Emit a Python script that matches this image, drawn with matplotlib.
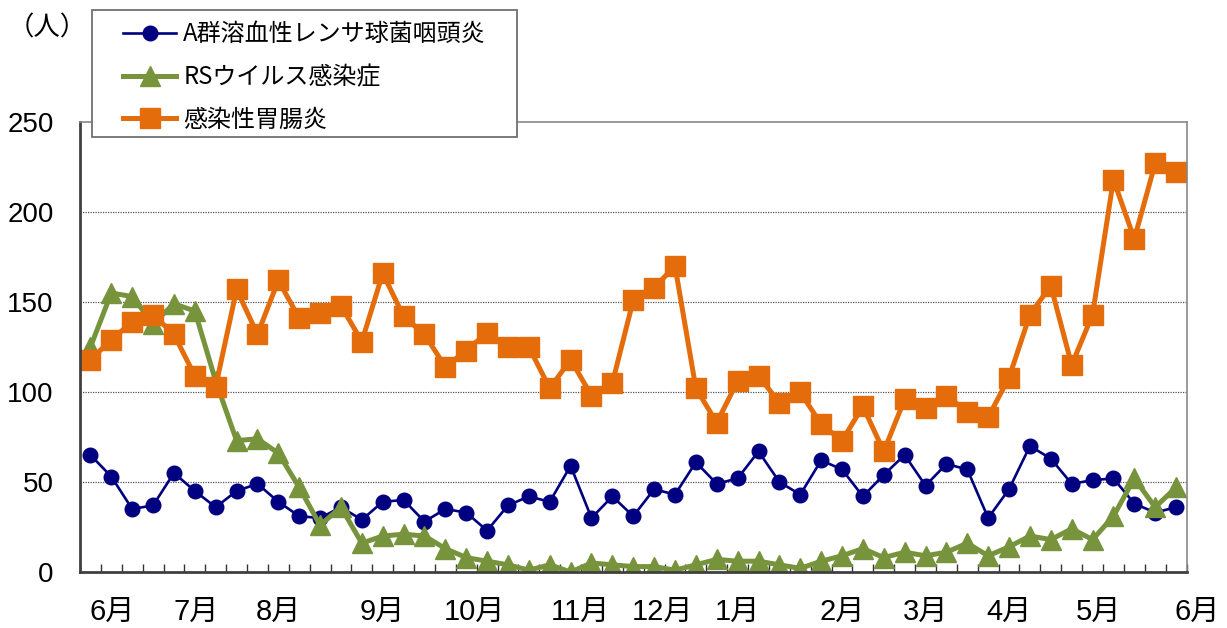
import numpy as np
import matplotlib
matplotlib.use("Agg")
from matplotlib import pyplot as plt
from matplotlib.patches import Rectangle

plt.rcParams['font.family'] = ['Liberation Sans', 'Noto Sans CJK JP', 'DejaVu Sans']

# weekly counts, 53 weeks
strep_a = [65, 53, 35, 37, 55, 45, 36, 45, 49, 39, 31, 30, 36, 29, 39, 40, 28, 35,
           33, 23, 37, 42, 39, 59, 30, 42, 31, 46, 43, 61, 49, 52, 67, 50, 43, 62,
           57, 42, 54, 65, 48, 60, 57, 30, 46, 70, 63, 49, 51, 52, 38, 33, 36]
rsv = [125, 155, 153, 138, 149, 145, 106, 73, 74, 66, 47, 26, 36, 16, 20, 21, 20, 13,
       8, 6, 4, 1, 4, 0, 5, 4, 3, 3, 1, 4, 7, 6, 6, 4, 2, 6, 9,
       13, 8, 11, 9, 11, 16, 9, 14, 20, 18, 24, 18, 31, 52, 36, 47]
gastro = [118, 129, 139, 143, 132, 109, 103, 157, 132, 162, 141, 144, 148, 128, 166,
          142, 132, 114, 123, 133, 125, 125, 102, 118, 98, 105, 151, 158, 170, 102,
          83, 106, 109, 94, 100, 82, 73, 92, 67, 96, 91, 98, 89, 86, 108, 143, 159,
          115, 143, 218, 185, 227, 222]

series_names = ['A群溶血性レンサ球菌咽頭炎', 'RSウイルス感染症', '感染性胃腸炎']
month_labels = ['6月', '7月', '8月', '9月', '10月', '11月', '12月',
                '1月', '2月', '3月', '4月', '5月', '6月']
month_pos = [1.06, 5.07, 9.0, 14.0, 18.4, 23.45, 27.4, 31.0, 36.0, 40.0, 44.0, 48.3, 53.0]
y_ticks = [0, 50, 100, 150, 200, 250]

W, H = 1227, 628
fig = plt.figure(figsize=(W / 100, H / 100), dpi=100)
ax = fig.add_axes([80 / W, (H - 572) / H, (1186.5 - 80) / W, (572 - 122) / H])

x = np.arange(len(gastro))
ax.plot(x, strep_a, color='#000080', lw=1.9, marker='o', ms=10.5, label=series_names[0])
ax.plot(x, rsv, color='#77933C', lw=3.6, marker='^', ms=14, label=series_names[1])
ax.plot(x, gastro, color='#E46C0A', lw=3.6, marker='s', ms=14, label=series_names[2])

ax.set_yticks(y_ticks)
ax.tick_params(axis='y', length=0, pad=19, labelsize=20)
ax.set_xticks([])
ax.set_xticks(np.arange(-0.5, len(gastro)), minor=True)
ax.tick_params(axis='x', which='minor', direction='in', length=6, width=1, color='#333333')
ax.set_xlim(-0.5, len(gastro) - 0.5)
ax.set_ylim(0, 250)

# month labels sit between category ticks, last one past the axis end
for pos, lab in zip(month_pos, month_labels):
    ax.text(pos, -0.089, lab, transform=ax.get_xaxis_transform(), ha='center',
            va='center', fontsize=21, clip_on=False)

for v in y_ticks[1:-1]:
    ax.axhline(v, color='#555555', lw=0.9, ls=(0, (1, 1)), zorder=1)

for s in ['left', 'bottom']:
    ax.spines[s].set_color('#404040')
    ax.spines[s].set_linewidth(2)
for s in ['top', 'right']:
    ax.spines[s].set_color('#888888')
    ax.spines[s].set_linewidth(1.2)

# legend box
box = Rectangle((92 / W, 1 - 137 / H), (517 - 92) / W, (137 - 10) / H,
                transform=fig.transFigure, facecolor='white', edgecolor='#707070',
                lw=1.3, zorder=4, clip_on=False)
ax.add_patch(box)
leg = ax.legend(loc='upper left', bbox_to_anchor=(116 / W, 1 - 14 / H),
                bbox_transform=fig.transFigure, frameon=False,
                prop={'family': ['Noto Sans CJK JP'], 'size': 17.3},
                handlelength=2.2, handletextpad=0.3, labelspacing=0.7,
                borderpad=0.3, borderaxespad=0)
leg.set_zorder(5)

fig.text(47 / W, 1 - 28 / H, '（人）', ha='center', va='center', fontsize=19,
         family=['Noto Sans CJK JP'])

fig.savefig('out.png', dpi=100)
